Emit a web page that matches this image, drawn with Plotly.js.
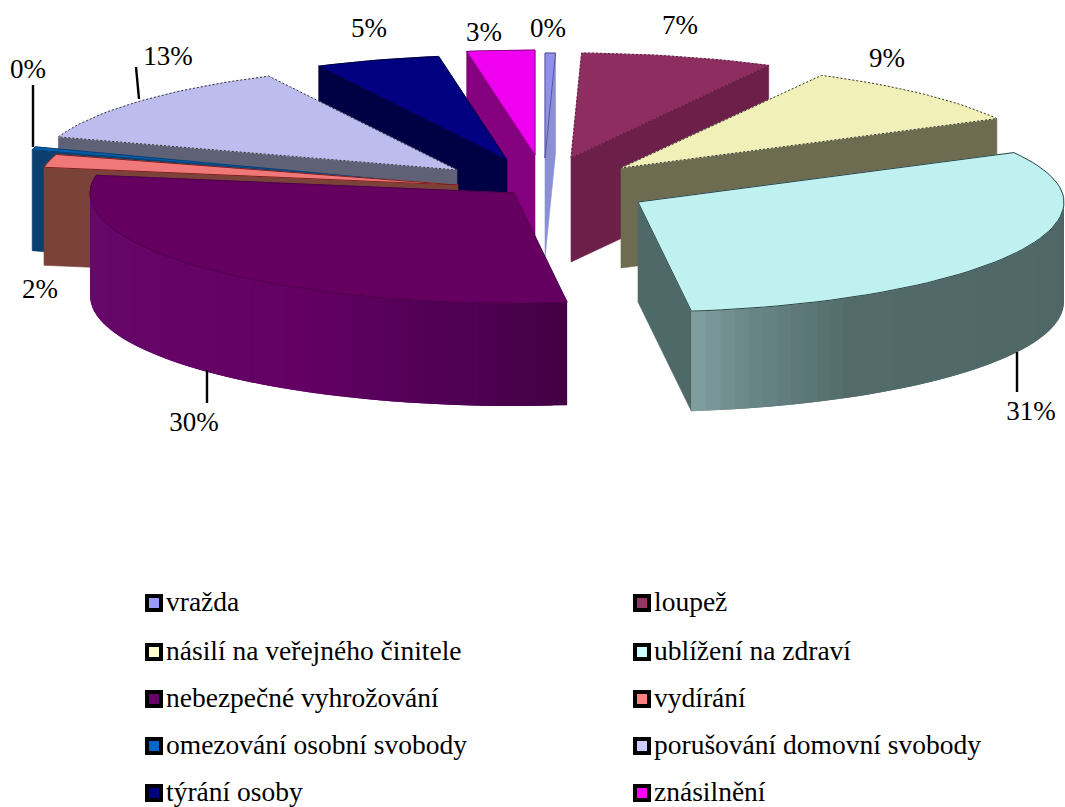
<!DOCTYPE html>
<html><head><meta charset="utf-8">
<script src="https://cdn.plot.ly/plotly-3.0.1.min.js"></script>
<style>html,body{margin:0;padding:0;background:#fff;overflow:hidden}#c{width:1065px;height:807px}</style>
</head><body><div id="c"></div>
<script>
// ---- data ----
const categories = ["vražda","loupež","násilí na veřejného činitele","ublížení na zdraví","nebezpečné vyhrožování","vydírání","omezování osobní svobody","porušování domovní svobody","týrání osoby","znásilnění"];
const shares = [0.4,7.4,9.4,30.8,29.7,2.0,0.4,12.5,4.8,2.6];

// ---- styling ----
const legendColors = ["#9999ff","#993366","#ffffcc","#ccffff","#660066","#ff8080","#0066cc","#ccccff","#000080","#ff00ff"];
const topColors    = ["#9090e8","#8e2d5f","#f1f0b9","#bff1f1","#650060","#f07878","#0060b0","#bcbcee","#000080","#f000f0"];
const faceColors   = ["#8b90d4","#6b1f49","#6d6b50","#4f6868","#630063","#7a4238","#0a3f6e","#5f6176","#000045","#85007e"];
const edgeColors   = ["#555599","#5a1a3e","#333","#2c4444","#4d004d","#7a2020","#0a3f6e","#333","#000040","#85007e"];
const apexes = [[545,158],[571,158],[621,168],[638,202],[514,193],[458,185],[434,184],[457,170],[507,160],[535,155]];
const radiusX = [420,420,426,426,424,420,420,420,420,420];
const radiusBack = [105,105,105,105,105,105,118,105,105,105];
const depths  = [100,104,100,100,103,98,101,100,100,100];
const paintOrder = [0,9,8,7,6,5,4,1,2,3];
const rimShades = {
  3: [[90,"#4f6666"],[150,"#526a6a"],[164,"#688585"],[173,"#829fa2"]],
  4: [[172,"#430043"],[195,"#55005a"],[210,"#640064"],[270,"#660a6a"]]
};
const labelSpots = [[548,30],[680,27],[887,60],[1031,413],[194,424],[40,291],[28,71],[168,58],[369,30],[484,34]];
const leaderLines = [[[33,85],[33,147]],[[136,67],[139,99]],[[207,370],[207,403]],[[1017,352],[1017,392]]];
const legendSpots = [[154,603],[642,603],[154,652],[642,652],[154,699],[642,699],[154,746],[642,746],[154,793],[642,793]];
const serif = "Liberation Serif, Times New Roman, serif";

// ---- geometry helpers ----
const total = shares.reduce((a,b)=>a+b,0);
let run = 0;
const spans = shares.map(v=>{const s=run/total*360; run+=v; return [s,run/total*360];});
const rad = d=>d*Math.PI/180;
function pt(i,deg){
  const c=Math.cos(rad(deg)), b=c>0?radiusBack[i]:110;
  return [apexes[i][0]+radiusX[i]*Math.sin(rad(deg)), apexes[i][1]-b*c];
}
function hex(c){c=c.replace('#','');return [0,2,4].map(k=>parseInt(c.substr(k,2),16));}
function shade(stops,deg){
  if(deg<=stops[0][0])return stops[0][1];
  for(let k=1;k<stops.length;k++){
    if(deg<=stops[k][0]){
      const t=(deg-stops[k-1][0])/(stops[k][0]-stops[k-1][0]);
      const a=hex(stops[k-1][1]),b=hex(stops[k][1]);
      return 'rgb('+a.map((v,j)=>Math.round(v+(b[j]-v)*t)).join(',')+')';
    }
  }
  return stops[stops.length-1][1];
}
function poly(points,color,w){
  return {type:'scatter',mode:'lines',x:points.map(p=>p[0]).concat(points[0][0]),y:points.map(p=>p[1]).concat(points[0][1]),
    fill:'toself',fillcolor:color,line:{color:color,width:w===undefined?0.6:w},hoverinfo:'skip',showlegend:false};
}
const traces=[];
paintOrder.forEach(i=>{
  const [s,e]=spans[i], d=depths[i], A=apexes[i];
  const faceDeg = Math.sin(rad(e))>0 ? e : (Math.sin(rad(s))<0 ? s : null);
  if(faceDeg!==null){
    const o=pt(i,faceDeg);
    traces.push(poly([A,o,[o[0],o[1]+d],[A[0],A[1]+d]],faceColors[i]));
  }
  // curved rim: each band runs on to the far end of the rim, the next one paints over it
  const r0=Math.max(s,90), r1=Math.min(e,270);
  if(r1>r0){
    const n=Math.ceil((r1-r0)/2);
    for(let k=0;k<n;k++){
      const a=r0+(r1-r0)*k/n, b=Math.min(r1,r0+(r1-r0)*(k+2)/n);
      const col=rimShades[i]?shade(rimShades[i],a+(r1-r0)/n/2):faceColors[i];
      const p=pt(i,a),q=pt(i,b);
      traces.push(poly([p,q,[q[0],q[1]+d],[p[0],p[1]+d]],col,0));
    }
  }
  const top=[A];
  const steps=Math.max(2,Math.ceil((e-s)/2));
  for(let k=0;k<=steps;k++)top.push(pt(i,s+(e-s)*k/steps));
  traces.push(poly(top,topColors[i]));
  traces.push({type:'scatter',mode:'lines',x:top.map(p=>p[0]).concat(A[0]),y:top.map(p=>p[1]).concat(A[1]),
    line:{color:edgeColors[i],width:1,dash:(i===7||i===2||i===1)?'2px,2px':'solid'},hoverinfo:'skip',showlegend:false});
});
leaderLines.forEach(l=>traces.push({type:'scatter',mode:'lines',x:[l[0][0],l[1][0]],y:[l[0][1],l[1][1]],
  line:{color:'#000',width:2.4},hoverinfo:'skip',showlegend:false}));
traces.push({type:'scatter',mode:'text',x:labelSpots.map(p=>p[0]),y:labelSpots.map(p=>p[1]),
  text:shares.map(v=>Math.round(v)+'%'),textposition:'middle center',
  textfont:{family:serif,size:27,color:'#000'},hoverinfo:'skip',showlegend:false});
traces.push({type:'scatter',mode:'markers',x:legendSpots.map(p=>p[0]),y:legendSpots.map(p=>p[1]),
  marker:{symbol:'square',size:14,color:legendColors,line:{color:'#000',width:4}},hoverinfo:'skip',showlegend:false});
traces.push({type:'scatter',mode:'text',x:legendSpots.map(p=>p[0]+12),y:legendSpots.map(p=>p[1]+1),
  text:categories,textposition:'middle right',textfont:{family:serif,size:27.5,color:'#000'},hoverinfo:'skip',showlegend:false});

Plotly.newPlot('c',traces,{
  width:1065,height:807,margin:{l:0,r:0,t:0,b:0,pad:0},
  paper_bgcolor:'#fff',plot_bgcolor:'#fff',showlegend:false,
  xaxis:{range:[0,1065],visible:false,fixedrange:true},
  yaxis:{range:[807,0],visible:false,fixedrange:true}
},{displayModeBar:false,staticPlot:true});
</script></body></html>
